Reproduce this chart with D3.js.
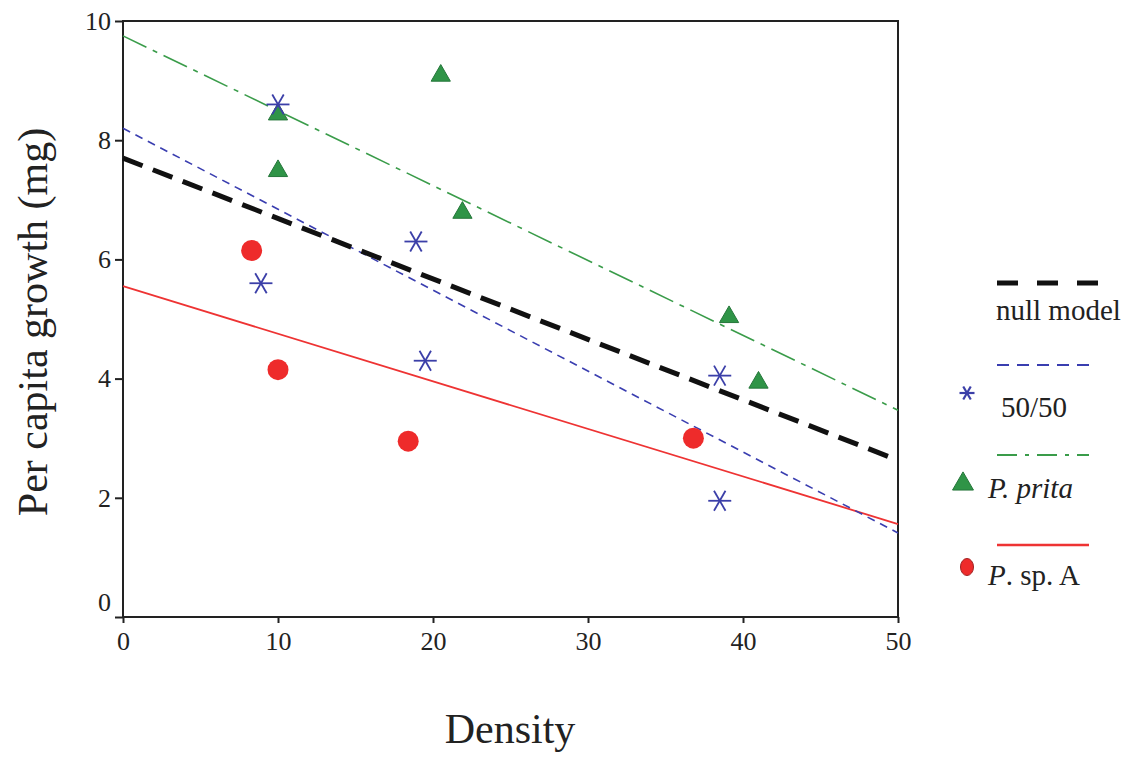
<!DOCTYPE html>
<html>
<head>
<meta charset="utf-8">
<script src="https://cdn.jsdelivr.net/npm/d3@7"></script>
<style>
  body { margin: 0; background: #fff; }
  text { font-family: "Liberation Serif", "Times New Roman", Times, serif; fill: #222; }
</style>
</head>
<body>
<div id="chart"></div>
<script>
// data
const spA_x = [8.3, 10, 18.4, 36.8];
const spA_y = [6.15, 4.15, 2.95, 3.0];
const mix_x = [10, 8.9, 18.9, 19.5, 38.5, 38.5];
const mix_y = [8.6, 5.6, 6.3, 4.3, 4.05, 1.95];
const prita_x = [10, 10, 20.5, 21.9, 39.1, 41];
const prita_y = [8.45, 7.5, 9.1, 6.8, 5.05, 3.95];
// fitted lines, values at density 0 and 50
const fit_x = [0, 50];
const null_fit = [7.7, 2.63];
const mix_fit = [8.2, 1.41];
const prita_fit = [9.75, 3.47];
const spA_fit = [5.55, 1.56];
const xTicks = [0, 10, 20, 30, 40, 50];
const yTicks = [0, 2, 4, 6, 8, 10];

const serif = '"Liberation Serif", "Times New Roman", Times, serif';
const w = 1141, h = 758;
const margin = { top: 21, right: 243, bottom: 141, left: 123 };

const svg = d3.select("#chart").append("svg")
  .attr("width", w)
  .attr("height", h);

const x = d3.scaleLinear().domain([0, 50]).range([margin.left, w - margin.right]),
      y = d3.scaleLinear().domain([0, 10]).range([h - margin.bottom, margin.top]);

const zip = (a, b) => a.map((v, i) => [v, b[i]]);

// axes
const gx = svg.append("g").attr("transform", `translate(0,${h - margin.bottom})`)
  .call(d3.axisBottom(x).tickValues(xTicks).tickSize(6).tickSizeOuter(0).tickPadding(9));
const gy = svg.append("g").attr("transform", `translate(${margin.left},0)`)
  .call(d3.axisLeft(y).tickValues(yTicks).tickSize(8).tickSizeOuter(0).tickPadding(4));
[gx, gy].forEach(g => {
  g.attr("font-family", serif).attr("font-size", 26);
  g.select(".domain").remove();
  g.selectAll("line").attr("stroke", "#222").attr("stroke-width", 2);
  g.selectAll("text").attr("fill", "#222");
});
// the y "0" sits a bit above its tick in the original
gy.selectAll("text").filter(d => d === 0).attr("dy", "-0.25em");

// frame
svg.append("rect")
  .attr("x", x(0)).attr("y", y(10))
  .attr("width", x(50) - x(0)).attr("height", y(0) - y(10))
  .attr("fill", "none").attr("stroke", "#222").attr("stroke-width", 2);

// axis titles
svg.append("text").attr("x", 510).attr("y", 743).attr("text-anchor", "middle")
  .style("font-size", "42px").text("Density");
svg.append("text").attr("transform", "rotate(-90)").attr("x", -322).attr("y", 47)
  .attr("text-anchor", "middle").style("font-size", "42px").text("Per capita growth (mg)");

// fitted lines
const line = d3.line().x(d => x(d[0])).y(d => y(d[1]));
const fits = [
  { v: prita_fit, stroke: "#3a9c4a", width: 1.6, dash: "26,7,5,7" },
  { v: spA_fit, stroke: "#ee3333", width: 1.8, dash: null },
  { v: mix_fit, stroke: "#3a3eb0", width: 1.6, dash: "8,6" },
  { v: null_fit, stroke: "#111", width: 5, dash: "21,11" }
];
fits.forEach(f => {
  svg.append("path")
    .datum(zip(fit_x, f.v))
    .attr("fill", "none")
    .attr("stroke", f.stroke)
    .attr("stroke-width", f.width)
    .attr("stroke-dasharray", f.dash)
    .attr("d", line);
});

// markers
const star = (g, cx, cy, r, sw) => {
  [0, 60, 120].forEach(a => {
    const rad = a * Math.PI / 180;
    g.append("line")
      .attr("x1", cx - r * Math.cos(rad)).attr("y1", cy - r * Math.sin(rad))
      .attr("x2", cx + r * Math.cos(rad)).attr("y2", cy + r * Math.sin(rad))
      .attr("stroke", "#3b3fa8").attr("stroke-width", sw);
  });
};
const tri = d3.symbol().type(d3.symbolTriangle).size(160);

svg.selectAll(".spA").data(zip(spA_x, spA_y)).enter().append("circle")
  .attr("cx", d => x(d[0])).attr("cy", d => y(d[1])).attr("r", 10.5)
  .attr("fill", "#ee2b2b");

svg.selectAll(".prita").data(zip(prita_x, prita_y)).enter().append("path")
  .attr("d", tri)
  .attr("transform", d => `translate(${x(d[0])},${y(d[1]) + 1})`)
  .attr("fill", "#2f9447").attr("stroke", "#25763a").attr("stroke-width", 1);

const stars = svg.append("g");
zip(mix_x, mix_y).forEach(d => star(stars, x(d[0]), y(d[1]), 11.5, 1.8));

// legend
const lg = svg.append("g");
const lx1 = 997, lx2 = 1098;
lg.append("line").attr("x1", lx1).attr("x2", lx2).attr("y1", 283).attr("y2", 283)
  .attr("stroke", "#111").attr("stroke-width", 5).attr("stroke-dasharray", "21,19");
lg.append("text").attr("x", 996).attr("y", 320).style("font-size", "29px").text("null model");

lg.append("line").attr("x1", lx1).attr("x2", 1089).attr("y1", 365).attr("y2", 365)
  .attr("stroke", "#3a3eb0").attr("stroke-width", 2).attr("stroke-dasharray", "12,8");
star(lg, 967, 393, 7.5, 2.2);
lg.append("text").attr("x", 1001).attr("y", 417).style("font-size", "29px").text("50/50");

lg.append("line").attr("x1", lx1).attr("x2", 1089).attr("y1", 455).attr("y2", 455)
  .attr("stroke", "#3a9c4a").attr("stroke-width", 2).attr("stroke-dasharray", "20,8,4,8");
lg.append("path").attr("d", d3.symbol().type(d3.symbolTriangle).size(190))
  .attr("transform", "translate(963,484)")
  .attr("fill", "#2f9447").attr("stroke", "#25763a").attr("stroke-width", 1);
lg.append("text").attr("x", 988).attr("y", 498).style("font-size", "29px")
  .style("font-style", "italic").text("P. prita");

lg.append("line").attr("x1", lx1).attr("x2", 1089).attr("y1", 545).attr("y2", 545)
  .attr("stroke", "#ee3333").attr("stroke-width", 2.5);
lg.append("ellipse").attr("cx", 967).attr("cy", 567).attr("rx", 6.5).attr("ry", 8.5)
  .attr("fill", "#ee2b2b").attr("stroke", "#a02020").attr("stroke-width", 1);
const t4 = lg.append("text").attr("x", 988).attr("y", 585).style("font-size", "29px");
t4.append("tspan").style("font-style", "italic").text("P");
t4.append("tspan").text(". sp. A");
</script>
</body>
</html>
